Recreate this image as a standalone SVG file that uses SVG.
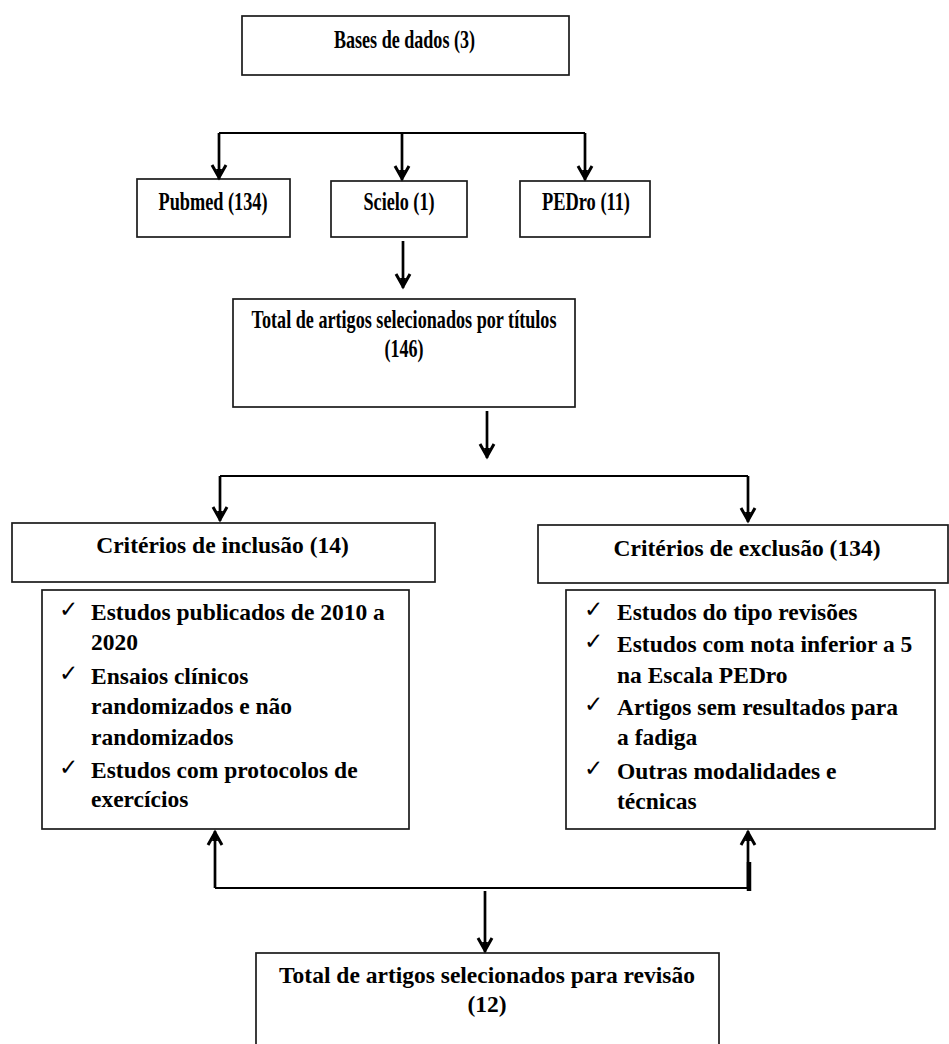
<svg xmlns="http://www.w3.org/2000/svg" width="949" height="1044" viewBox="0 0 949 1044">
<style>
.box{fill:#fff;stroke:#1a1a1a;stroke-width:1.7}
.t{font-family:"Liberation Serif","Times New Roman",serif;font-weight:bold;font-size:25px;fill:#000}
.m{text-anchor:middle}
.f{font-size:23.5px}
.ck{font-family:"DejaVu Sans",sans-serif;font-size:23px;fill:#000}
.ln{fill:none;stroke:#000;stroke-width:2}
.sh{fill:none;stroke:#000;stroke-width:2.7}
</style>
<defs>
<marker id="arr" markerUnits="userSpaceOnUse" orient="auto" refX="0" refY="0" markerWidth="24" markerHeight="24" viewBox="-16 -12 20 24" overflow="visible">
<path d="M-14,-7 L-1.5,0 L-14,7" fill="none" stroke="#000" stroke-width="3"/>
<path d="M-10,-3 L0,0 L-10,3 Z" fill="#000"/>
</marker>
</defs>
<rect width="949" height="1044" fill="#fff"/>

<g id="bases">
<rect class="box" x="242" y="16" width="327" height="59"/>
<text class="t m" x="404.5" y="48" textLength="141" lengthAdjust="spacingAndGlyphs">Bases de dados (3)</text>
</g>
<g id="pubmed">
<rect class="box" x="137" y="179" width="153" height="58"/>
<text class="t m" x="213" y="210" textLength="109" lengthAdjust="spacingAndGlyphs">Pubmed (134)</text>
</g>
<g id="scielo">
<rect class="box" x="331" y="181" width="136" height="56"/>
<text class="t m" x="399" y="210" textLength="71" lengthAdjust="spacingAndGlyphs">Scielo (1)</text>
</g>
<g id="pedro">
<rect class="box" x="520" y="181" width="130" height="56"/>
<text class="t m" x="586" y="210" textLength="88" lengthAdjust="spacingAndGlyphs">PEDro (11)</text>
</g>
<g id="total-titulos">
<rect class="box" x="233" y="299" width="342" height="108"/>
<text class="t m" x="404" y="328" textLength="305" lengthAdjust="spacingAndGlyphs">Total de artigos selecionados por títulos</text>
<text class="t m" x="404" y="357" textLength="39" lengthAdjust="spacingAndGlyphs">(146)</text>
</g>
<g id="inclusao">
<rect class="box" x="12" y="523" width="423" height="59"/>
<text class="t f m" x="222.5" y="553">Critérios de inclusão (14)</text>
</g>
<g id="inclusao-lista">
<rect class="box" x="42" y="590" width="367" height="239"/>
<text class="ck" x="59" y="617">✓</text>
<text class="t f" x="91" y="620">Estudos publicados de 2010 a</text>
<text class="t f" x="91" y="650">2020</text>
<text class="ck" x="59" y="681">✓</text>
<text class="t f" x="91" y="684">Ensaios clínicos</text>
<text class="t f" x="91" y="714">randomizados e não</text>
<text class="t f" x="91" y="745">randomizados</text>
<text class="ck" x="59" y="775">✓</text>
<text class="t f" x="91" y="778">Estudos com protocolos de</text>
<text class="t f" x="91" y="807">exercícios</text>
</g>
<g id="exclusao">
<rect class="box" x="538" y="525" width="410" height="58"/>
<text class="t f m" x="747" y="556">Critérios de exclusão (134)</text>
</g>
<g id="exclusao-lista">
<rect class="box" x="566" y="590" width="369" height="239"/>
<text class="ck" x="584" y="617">✓</text>
<text class="t f" x="617" y="620">Estudos do tipo revisões</text>
<text class="ck" x="584" y="649">✓</text>
<text class="t f" x="617" y="652">Estudos com nota inferior a 5</text>
<text class="t f" x="617" y="683">na Escala PEDro</text>
<text class="ck" x="584" y="712">✓</text>
<text class="t f" x="617" y="715">Artigos sem resultados para</text>
<text class="t f" x="617" y="745">a fadiga</text>
<text class="ck" x="584" y="776">✓</text>
<text class="t f" x="617" y="779">Outras modalidades e</text>
<text class="t f" x="617" y="809">técnicas</text>
</g>
<g id="total-revisao">
<rect class="box" x="256" y="953" width="463" height="120"/>
<text class="t f m" x="487" y="983">Total de artigos selecionados para revisão</text>
<text class="t f m" x="487" y="1012">(12)</text>
</g>

<g id="connectors">
<path class="ln" d="M219,133 H585"/>
<path class="sh" d="M219,133 V179" marker-end="url(#arr)"/>
<path class="sh" d="M402,133 V180" marker-end="url(#arr)"/>
<path class="sh" d="M585,133 V180" marker-end="url(#arr)"/>
<path class="sh" d="M403,241 V288" marker-end="url(#arr)"/>
<path class="sh" d="M487,411 V458" marker-end="url(#arr)"/>
<path class="ln" d="M220,476 H748"/>
<path class="sh" d="M220,476 V521" marker-end="url(#arr)"/>
<path class="sh" d="M748,476 V522" marker-end="url(#arr)"/>
<path class="ln" d="M215,888 H748"/>
<path class="sh" d="M215,888 V831" marker-end="url(#arr)"/>
<path class="sh" d="M748,888 V831" marker-end="url(#arr)"/>
<path fill="none" stroke="#000" stroke-width="4.5" d="M749,862 V891"/>
<path class="sh" d="M485,891 V952" marker-end="url(#arr)"/>
</g>
</svg>
